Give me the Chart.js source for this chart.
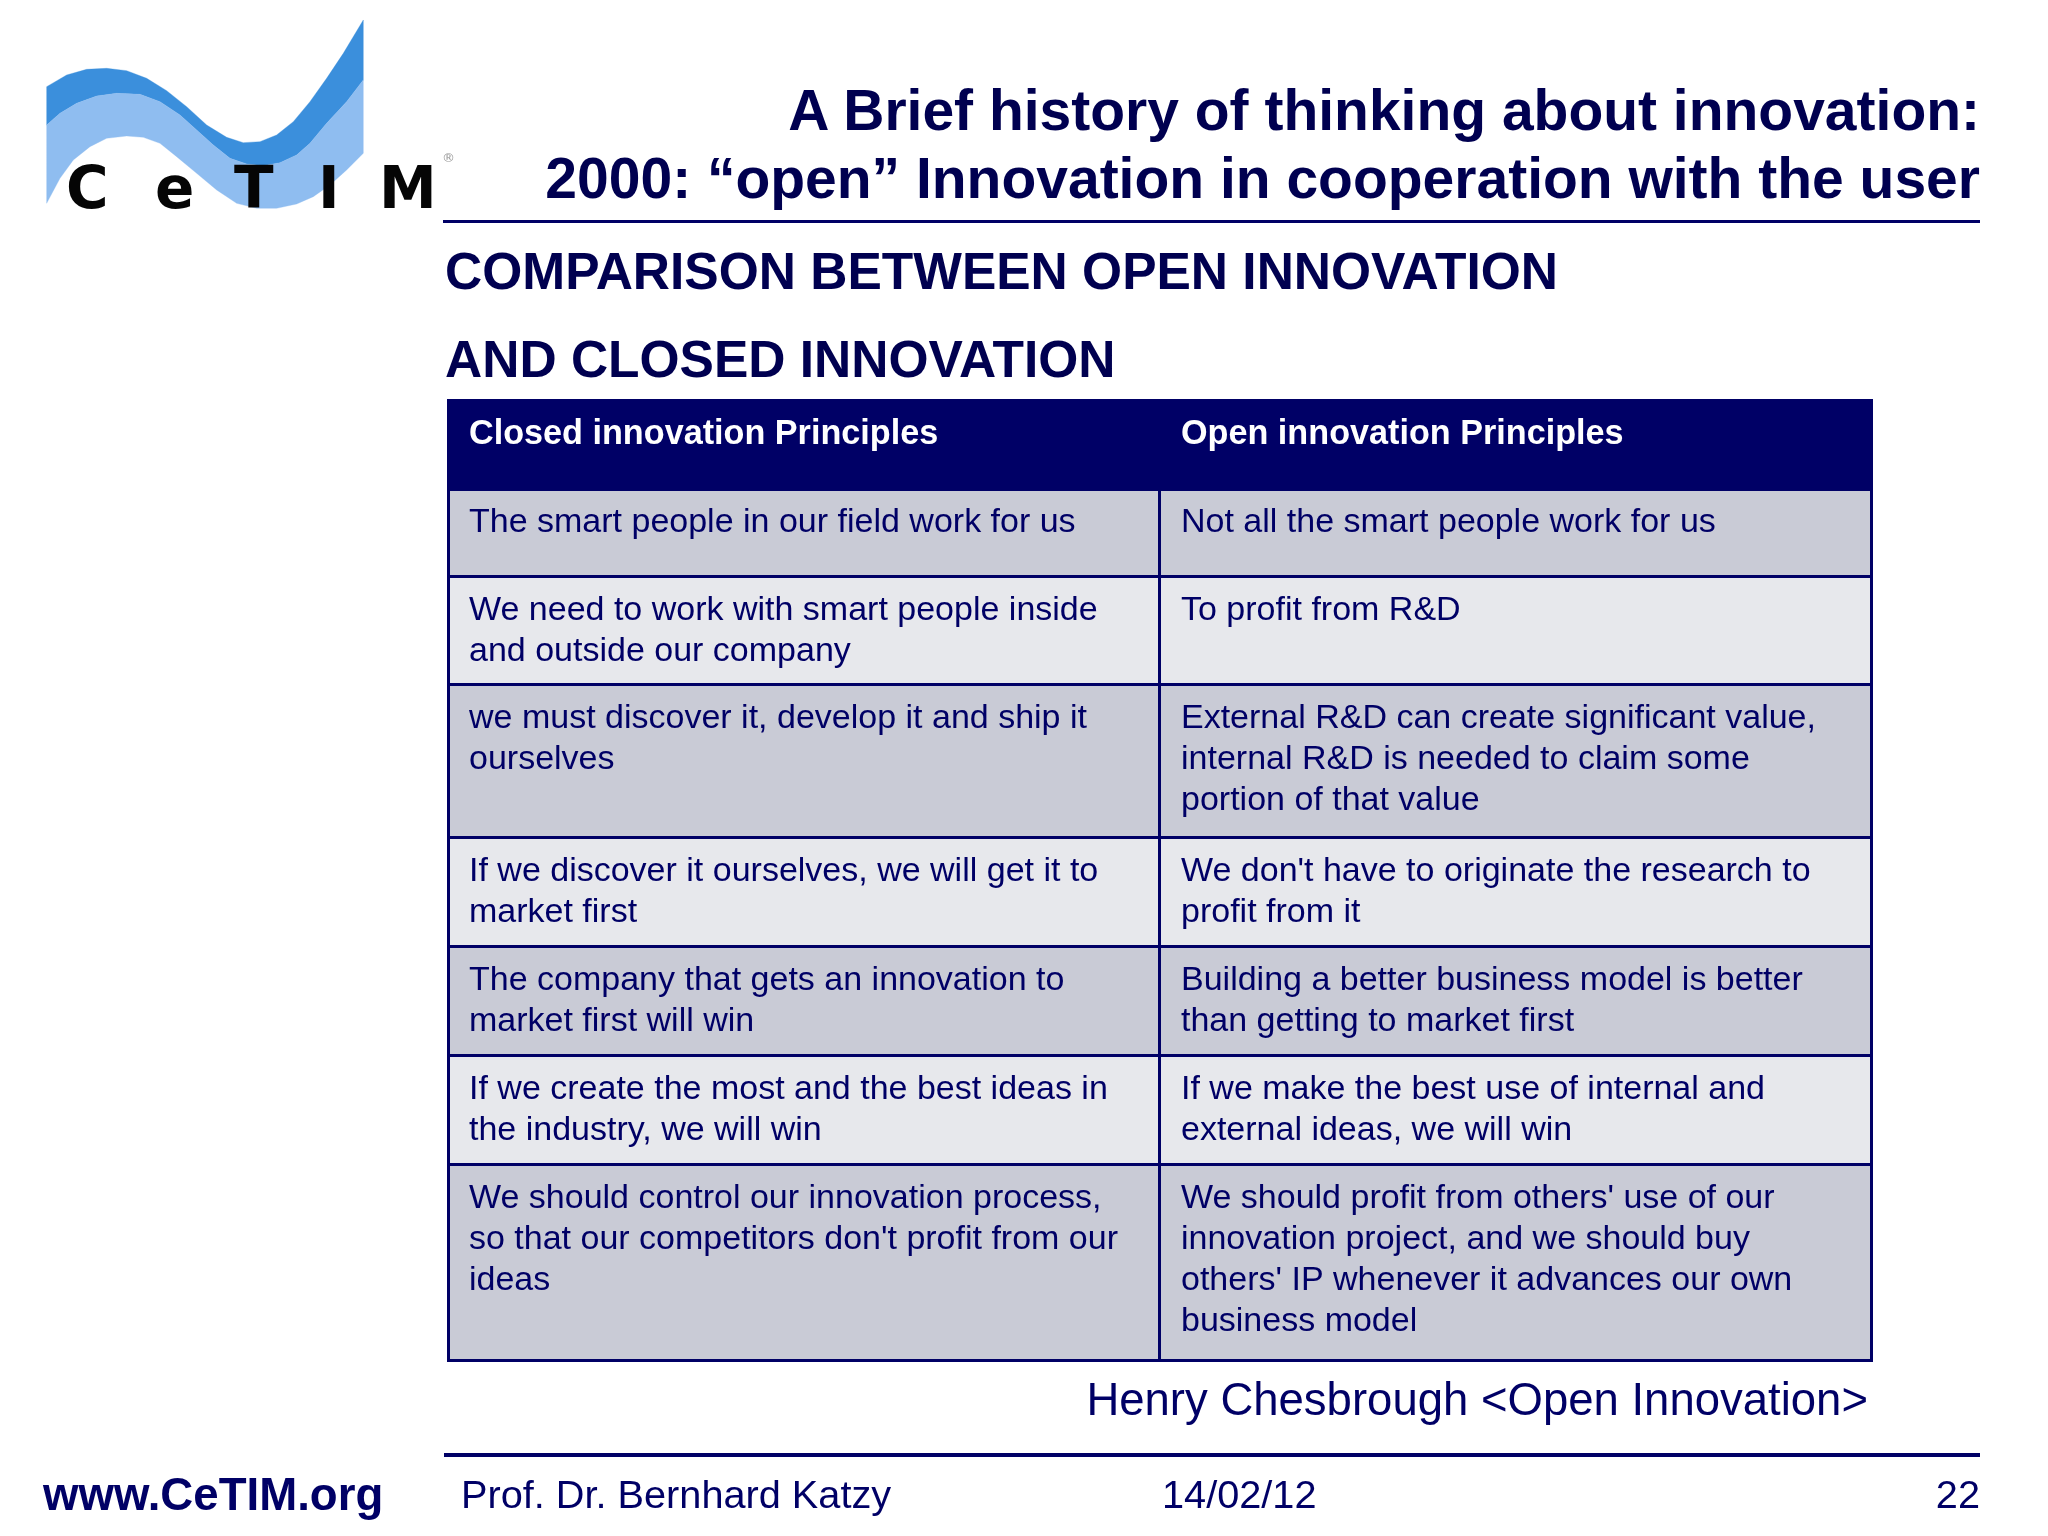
<!DOCTYPE html>
<html>
<head>
<meta charset="utf-8">
<title>Open and closed innovation</title>
<script src="https://cdn.jsdelivr.net/npm/chart.js@4"></script>
<style>
    html, body { margin: 0; padding: 0; background: #fff; }
    #slide { position: relative; width: 2048px; height: 1536px; overflow: hidden; font-family: "Liberation Sans", Arial, sans-serif; color: #000066; }
    #slide canvas { position: absolute; left: 0; top: 0; }
    .txt { position: absolute; white-space: nowrap; line-height: 1; }
    .rule { position: absolute; background: #000066; }
    .title { right: 68px; font-size: 57px; font-weight: bold; color: #000050; }
    .sub { left: 445px; font-size: 51.5px; font-weight: bold; color: #000050; }
    .foot { font-size: 39.7px; }
</style>
</head>
<body>
<div id="slide">
    <canvas id="tableChart" width="2048" height="1536"></canvas>

    <!-- logo -->
    <svg style="position:absolute;left:0;top:0" width="480" height="240">
        <g transform="scale(0.3333)" stroke-linejoin="round" stroke-width="1">
            <polygon fill="#3b8fdc" stroke="#3b8fdc" points="140,260 200,225 260,208 320,205 380,212 440,235 500,272 560,320 620,375 680,412 730,428 780,425 830,405 880,365 930,305 980,235 1030,160 1090,60 1090,240 1040,305 980,370 930,430 890,465 840,488 790,497 740,492 690,475 640,435 590,390 540,345 480,305 420,283 350,280 290,288 230,310 180,340 140,375"/>
            <polygon fill="#8fbdf0" stroke="#8fbdf0" points="140,375 180,340 230,310 290,288 350,280 420,283 480,305 540,345 590,390 640,435 690,475 740,492 790,497 840,488 890,465 930,430 980,370 1040,305 1090,240 1090,460 1040,510 990,555 940,590 890,612 830,625 770,625 710,610 650,570 590,520 530,470 480,430 430,412 380,408 320,415 270,440 220,480 180,535 140,610"/>
        </g>
        <g font-family="DejaVu Sans" font-weight="bold" font-size="58" fill="#050505">
            <text x="66" y="208">C</text>
            <text x="155" y="208">e</text>
            <text x="234" y="208">T</text>
            <text x="318" y="208">I</text>
            <text x="379" y="208">M</text>
        </g>
        <text x="442" y="162" font-family="DejaVu Sans" font-size="13" fill="#999">®</text>
    </svg>

    <div class="txt title" style="top:82px">A Brief history of thinking about innovation:</div>
    <div class="txt title" style="top:150px">2000: “open” Innovation in cooperation with the user</div>
    <div class="rule" style="left:443px;top:220px;width:1537px;height:3px"></div>
    <div class="txt sub" style="top:246px">COMPARISON BETWEEN OPEN INNOVATION</div>
    <div class="txt sub" style="top:334px">AND CLOSED INNOVATION</div>

    <div class="txt" style="right:180px;top:1377px;font-size:45.5px">Henry Chesbrough &lt;Open Innovation&gt;</div>
    <div class="rule" style="left:444px;top:1453px;width:1536px;height:4px"></div>
    <div class="txt" style="left:43px;top:1472px;font-size:45.6px;font-weight:bold">www.CeTIM.org</div>
    <div class="txt foot" style="left:461px;top:1475px">Prof. Dr. Bernhard Katzy</div>
    <div class="txt foot" style="left:1162px;top:1475px">14/02/12</div>
    <div class="txt foot" style="right:68px;top:1475px">22</div>
</div>

<script>
// Cot cua bang
const columns = ["Closed innovation Principles", "Open innovation Principles"];

// Noi dung tung hang, moi dong ngan cach bang \n
const closedRows = [
    "The smart people in our field work for us",
    "We need to work with smart people inside\nand outside our company",
    "we must discover it, develop it and ship it\nourselves",
    "If we discover it ourselves, we will get it to\nmarket first",
    "The company that gets an innovation to\nmarket first will win",
    "If we create the most and the best ideas in\nthe industry, we will win",
    "We should control our innovation process,\nso that our competitors don't profit from our\nideas"
];
const openRows = [
    "Not all the smart people work for us",
    "To profit from R&D",
    "External R&D can create significant value,\ninternal R&D is needed to claim some\nportion of that value",
    "We don't have to originate the research to\nprofit from it",
    "Building a better business model is better\nthan getting to market first",
    "If we make the best use of internal and\nexternal ideas, we will win",
    "We should profit from others' use of our\ninnovation project, and we should buy\nothers' IP whenever it advances our own\nbusiness model"
];

// Chieu cao hang doc tu hinh (hang dau la tieu de)
const rowHeights = [92, 87, 108, 153, 109, 109, 109, 196];

const NAVY = "#000066";

function rowColor(i) {
    if (i === 0) return "#000066";
    return i % 2 === 1 ? "#c9cbd6" : "#e7e8ec";
}

function cellBorder(ctx) {
    const row = ctx.datasetIndex;
    return {
        top: row === 0 ? 3 : 0,
        bottom: 3,
        left: ctx.dataIndex === 0 ? 3 : 1,
        right: ctx.dataIndex === 1 ? 3 : 2
    };
}

const datasets = rowHeights.map((h, i) => ({
    label: i === 0 ? "header" : "row " + i,
    data: columns.map(() => h),
    backgroundColor: rowColor(i),
    borderColor: NAVY,
    borderWidth: cellBorder,
    borderSkipped: false,
    inflateAmount: 0,
    barPercentage: 1,
    categoryPercentage: 1
}));

// Viet chu vao tung o, vi tri lay tu phan tu cot cua Chart.js
const cellTextPlugin = {
    id: "cellText",
    afterDatasetsDraw(chart) {
        const c = chart.ctx;
        c.save();
        c.textBaseline = "alphabetic";
        c.textAlign = "left";
        chart.data.datasets.forEach((ds, row) => {
            const meta = chart.getDatasetMeta(row);
            meta.data.forEach((bar, col) => {
                const left = bar.x - bar.width / 2;
                const top = Math.min(bar.y, bar.base);
                const inset = col === 0 ? 22 : 21;
                let text, pad;
                if (row === 0) {
                    text = columns[col];
                    pad = 45;
                    c.font = "bold 34.2px 'Liberation Sans'";
                    c.fillStyle = "#ffffff";
                } else {
                    text = (col === 0 ? closedRows : openRows)[row - 1];
                    pad = row === 1 ? 41 : 42;
                    c.font = "34px 'Liberation Sans'";
                    c.fillStyle = "#000066";
                }
                text.split("\n").forEach((line, n) => {
                    c.fillText(line, left + inset, top + pad + n * 41);
                });
            });
        });
        c.restore();
    }
};

new Chart(document.getElementById("tableChart").getContext("2d"), {
    type: "bar",
    data: { labels: columns, datasets: datasets },
    options: {
        responsive: false,
        animation: false,
        devicePixelRatio: 1,
        layout: { padding: { left: 447, top: 399, right: 175, bottom: 174 } },
        plugins: { legend: { display: false }, title: { display: false }, tooltip: { enabled: false } },
        scales: {
            x: { display: false, stacked: true },
            y: { display: false, stacked: true, reverse: true, min: 0, max: rowHeights.reduce((a, b) => a + b, 0) }
        }
    },
    plugins: [cellTextPlugin]
});
</script>
</body>
</html>
